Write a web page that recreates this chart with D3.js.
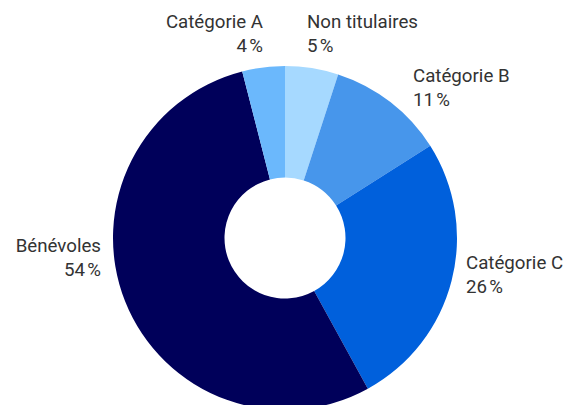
<!DOCTYPE html>
<html>
<head>
<meta charset="utf-8">
<script src="https://cdn.jsdelivr.net/npm/d3@7"></script>
<style>
  body { margin: 0; background: #fff; }
  svg { display: block; }
</style>
</head>
<body>
<svg id="chart"></svg>
<script>
// categories, clockwise from 12 o'clock
var categories = ['Non titulaires', 'Catégorie B', 'Catégorie C', 'Bénévoles', 'Catégorie A']
var values = [5, 11, 26, 54, 4]
var colors = ['#a6d9ff', '#4796eb', '#0060dc', '#00005a', '#6bb8fc']

// where each label sits (layout only)
var labelLayout = {
  'Non titulaires': { x: 307, y: 28, anchor: 'start' },
  'Catégorie B': { x: 413, y: 82, anchor: 'start' },
  'Catégorie C': { x: 466, y: 269, anchor: 'start' },
  'Bénévoles': { x: 101, y: 252, anchor: 'end' },
  'Catégorie A': { x: 263, y: 28, anchor: 'end' }
}

var width = 564
var height = 405
var cx = 285
var cy = 238
var outerR = 172
var innerR = 60.5

var svg = d3.select('#chart')
  .attr('width', width)
  .attr('height', height)

var color = d3.scaleOrdinal()
  .domain(categories)
  .range(colors)

var data = categories.map(function (c, i) {
  return { name: c, value: values[i] }
})

var pie = d3.pie()
  .value(function (d) { return d.value })
  .sort(null)

var arc = d3.arc()
  .innerRadius(innerR)
  .outerRadius(outerR)

var g = svg.append('g')
  .attr('transform', 'translate(' + cx + ',' + cy + ')')

g.selectAll('path')
  .data(pie(data))
  .join('path')
  .attr('d', arc)
  .attr('fill', function (d) { return color(d.data.name) })

var labels = svg.append('g')
  .attr('font-family', 'Roboto, sans-serif')
  .attr('font-size', 18.7)
  .attr('fill', '#333')
  .selectAll('text')
  .data(data)
  .join('text')
  .attr('text-anchor', function (d) { return labelLayout[d.name].anchor })
  .attr('x', function (d) { return labelLayout[d.name].x })
  .attr('y', function (d) { return labelLayout[d.name].y })

labels.append('tspan')
  .text(function (d) { return d.name })

labels.append('tspan')
  .attr('x', function (d) { return labelLayout[d.name].x })
  .attr('dy', 24)
  .text(function (d) { return d.value + '\u202F%' })
</script>
</body>
</html>
